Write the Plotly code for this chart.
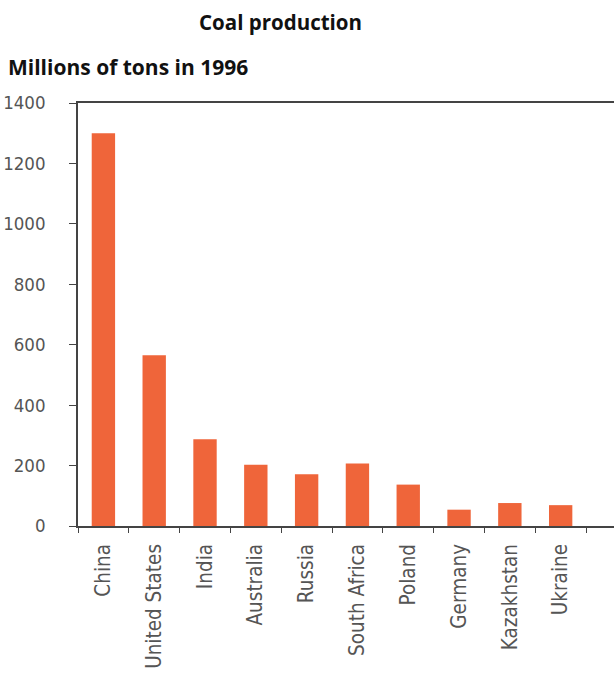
import plotly.graph_objects as go

countries = ["China", "United States", "India", "Australia", "Russia",
             "South Africa", "Poland", "Germany", "Kazakhstan", "Ukraine"]
production = [1300, 565, 287, 203, 171, 207, 137, 54, 76, 69]
y_ticks = [0, 200, 400, 600, 800, 1000, 1200, 1400]

tick_font = "DejaVu Sans Condensed"

fig = go.Figure(go.Bar(x=countries, y=production, marker_color="#EF653A",
                       marker_line_width=0))

fig.update_layout(
    width=614, height=675,
    margin=dict(l=78, r=0, t=103, b=149),
    plot_bgcolor="white", paper_bgcolor="white",
    bargap=0.54, showlegend=False,
    font=dict(family=tick_font, size=15, color="#444"),
    annotations=[
        dict(text="<b>Coal production</b>", xref="paper", yref="paper",
             x=0.377, y=1, yshift=81, xanchor="center", yanchor="middle",
             showarrow=False, font=dict(family="Open Sans", size=20.5, color="#111")),
        dict(text="<b>Millions of tons in 1996</b>", xref="paper", yref="paper",
             x=0, xshift=-72, y=1, yshift=36, xanchor="left", yanchor="middle",
             showarrow=False, font=dict(family="Open Sans", size=21, color="#111")),
    ],
)
fig.update_xaxes(
    range=[-0.5, 10.05], tickangle=-90, tickson="boundaries",
    ticks="outside", ticklen=5, tickcolor="#444", automargin=False,
    showline=True, linecolor="#444", linewidth=1.5, mirror=True,
    showgrid=False, tickfont=dict(family=tick_font, size=20.5, color="#555"),
    ticklabelstandoff=8,
)
fig.update_yaxes(
    range=[0, 1400], tickvals=y_ticks, ticks="outside", ticklen=7,
    tickcolor="#444", showline=True, linecolor="#444", linewidth=1.5,
    showgrid=False, zeroline=False, automargin=False,
    tickfont=dict(family=tick_font, size=18.5, color="#555"),
    ticklabelstandoff=20,
)

fig.write_html("out.html", config={"displayModeBar": False},
               post_script="document.body.style.margin='0';document.body.style.overflow='hidden';")
